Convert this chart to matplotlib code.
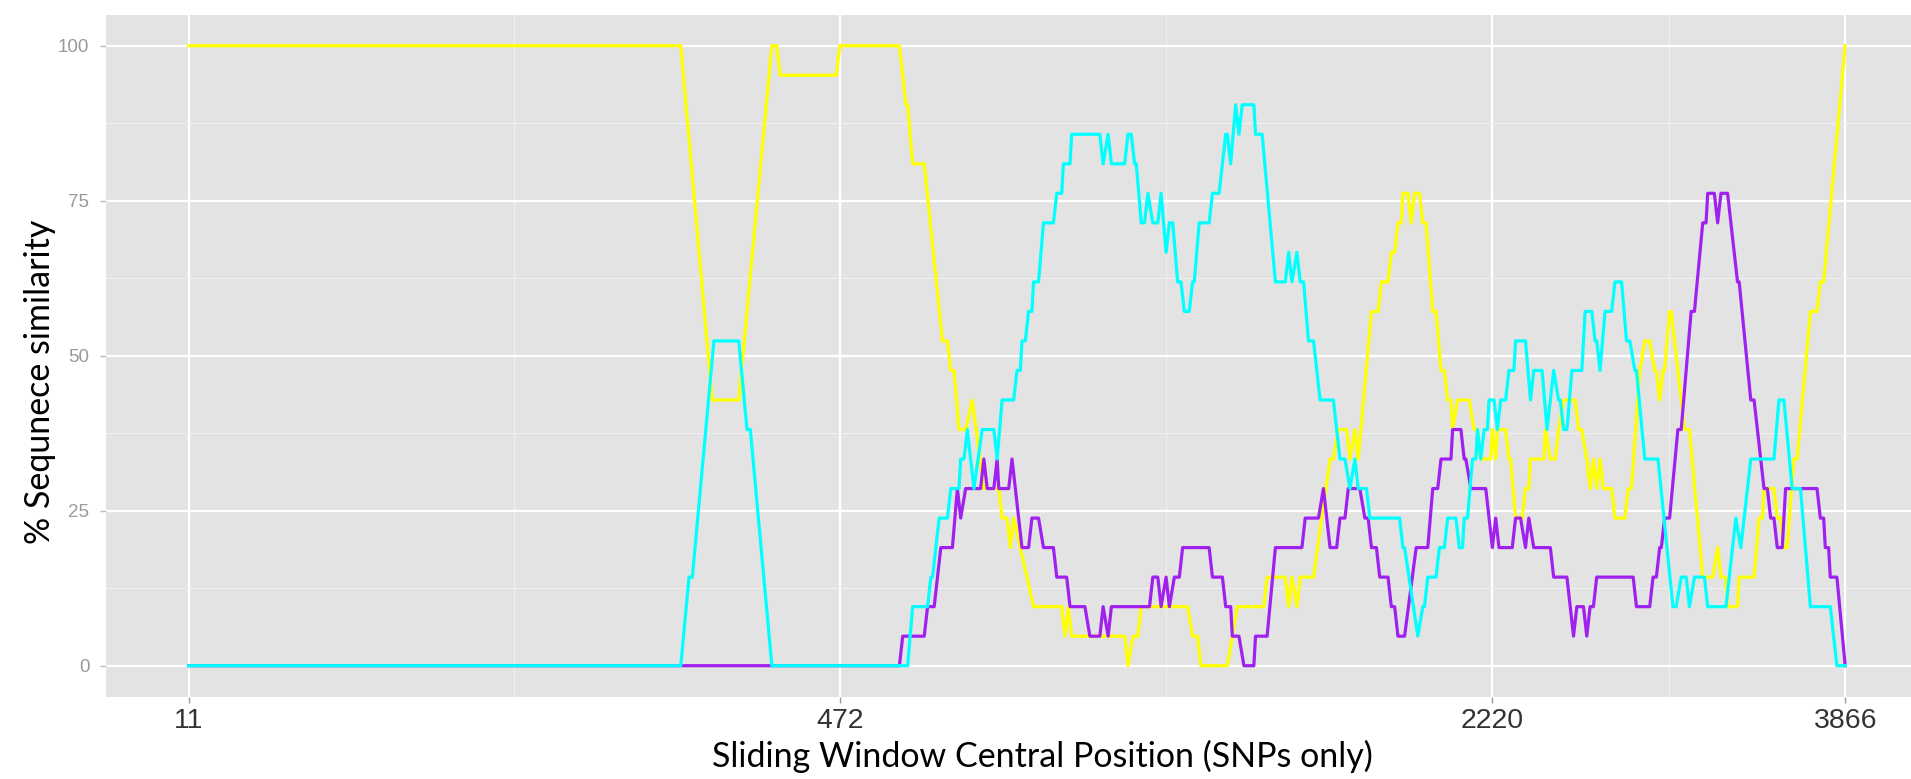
import numpy as np
import matplotlib
matplotlib.use("Agg")
import matplotlib.pyplot as plt

# window position (rank scale 0..1000) and number of matching SNPs out of 21
yellow_x = [0, 297, 316, 332, 352, 355, 357, 391, 393, 429, 433, 434, 437, 444, 455, 458, 460, 462, 465, 469,
            473, 480, 489, 491, 494, 496, 498, 510, 527, 529, 531, 533, 565, 567, 570, 573, 575, 603, 606, 609,
            611, 627, 633, 649, 651, 662, 664, 666, 669, 671, 679, 689, 691, 694, 699, 701, 704, 706, 714, 718,
            720, 724, 726, 728, 730, 732, 733, 736, 738, 740, 743, 745, 747, 751, 753, 756, 758, 760, 762, 763,
            766, 773, 776, 778, 780, 786, 787, 789, 790, 795, 797, 798, 801, 805, 807, 809, 810, 818, 819, 822,
            825, 827, 830, 837, 839, 841, 844, 846, 848, 850, 852, 854, 859, 861, 867, 869, 871, 876, 879, 882,
            885, 886, 888, 890, 891, 894, 895, 903, 906, 914, 920, 923, 925, 928, 929, 935, 936, 945, 948, 950,
            951, 957, 959, 961, 963, 965, 969, 971, 979, 983, 985, 987, 1000]
yellow_k = [21, 21, 9, 9, 21, 21, 20, 20, 21, 21, 19, 19, 17, 17, 11, 11, 10, 10, 8, 8,
            9, 6, 6, 5, 5, 4, 5, 2, 2, 1, 2, 1, 1, 0, 1, 1, 2, 2, 1, 1,
            0, 0, 2, 2, 3, 3, 2, 3, 2, 3, 3, 7, 7, 8, 8, 7, 8, 7, 12, 12,
            13, 13, 14, 14, 15, 15, 16, 16, 15, 16, 16, 15, 15, 12, 12, 10, 10, 9, 9, 8,
            9, 9, 8, 8, 7, 7, 8, 7, 8, 8, 7, 7, 5, 5, 6, 6, 7, 7, 8, 7,
            7, 8, 9, 9, 8, 8, 7, 6, 7, 6, 7, 6, 6, 5, 5, 6, 6, 10, 11, 11,
            10, 10, 9, 10, 10, 12, 12, 8, 8, 3, 3, 4, 3, 3, 2, 2, 3, 3, 5, 5,
            6, 6, 5, 5, 4, 4, 7, 7, 12, 12, 13, 13, 21]

cyan_x = [0, 297, 302, 304, 317, 332, 337, 339, 352, 434, 437, 446, 448, 449, 453, 458, 460, 465, 466, 468,
          470, 474, 479, 486, 488, 491, 498, 500, 502, 503, 505, 507, 509, 510, 513, 516, 522, 524, 527, 528,
          532, 533, 550, 552, 555, 557, 565, 567, 569, 571, 572, 575, 577, 579, 582, 585, 587, 590, 592, 594,
          597, 599, 601, 604, 606, 607, 610, 616, 618, 622, 626, 627, 629, 632, 634, 636, 643, 644, 648, 656,
          662, 664, 666, 669, 671, 673, 676, 679, 683, 691, 695, 698, 701, 704, 706, 711, 713, 731, 733, 734,
          742, 745, 746, 748, 753, 755, 758, 760, 765, 767, 769, 770, 772, 775, 777, 778, 780, 782, 784, 785,
          788, 790, 792, 795, 797, 800, 801, 807, 810, 812, 817, 820, 824, 827, 828, 830, 832, 835, 841, 843,
          847, 849, 850, 852, 855, 859, 861, 865, 868, 870, 873, 874, 879, 887, 896, 898, 901, 904, 906, 909,
          915, 917, 928, 934, 937, 943, 957, 960, 963, 968, 973, 979, 991, 995, 1000]
cyan_k = [0, 0, 3, 3, 11, 11, 8, 8, 0, 0, 2, 2, 3, 3, 5, 5, 6, 6, 7, 7,
          8, 6, 8, 8, 7, 9, 9, 10, 10, 11, 11, 12, 12, 13, 13, 15, 15, 16, 16, 17,
          17, 18, 18, 17, 18, 17, 17, 18, 18, 17, 17, 15, 15, 16, 15, 15, 16, 14, 15, 15,
          13, 13, 12, 12, 13, 13, 15, 15, 16, 16, 18, 18, 17, 19, 18, 19, 19, 18, 18, 13,
          13, 14, 13, 14, 13, 13, 11, 11, 9, 9, 7, 7, 6, 7, 6, 6, 5, 5, 4, 4,
          1, 2, 2, 3, 3, 4, 4, 5, 5, 4, 4, 5, 5, 7, 7, 8, 7, 8, 8, 9,
          9, 8, 9, 9, 10, 10, 11, 11, 9, 10, 10, 8, 10, 9, 9, 8, 8, 10, 10, 12,
          12, 11, 11, 10, 12, 12, 13, 13, 11, 11, 10, 10, 7, 7, 2, 2, 3, 3, 2, 3,
          3, 2, 2, 5, 4, 7, 7, 9, 9, 6, 6, 2, 2, 0, 0]

purple_x = [0, 429, 431, 444, 446, 450, 454, 461, 464, 466, 469, 478, 480, 482, 486, 488, 489, 495, 497, 501,
            503, 507, 509, 513, 516, 522, 524, 530, 532, 541, 544, 550, 552, 555, 557, 580, 582, 585, 587, 590,
            592, 595, 598, 600, 616, 618, 624, 626, 629, 630, 634, 637, 643, 644, 651, 656, 672, 674, 682, 685,
            689, 693, 695, 698, 700, 707, 710, 712, 714, 717, 719, 724, 726, 728, 730, 734, 741, 748, 751, 754,
            756, 762, 763, 768, 770, 771, 774, 783, 787, 789, 791, 799, 801, 804, 807, 809, 812, 822, 824, 832,
            836, 838, 842, 844, 846, 848, 850, 872, 874, 882, 884, 886, 888, 889, 891, 894, 899, 901, 907, 909,
            914, 916, 917, 921, 923, 925, 929, 935, 936, 943, 945, 951, 953, 955, 957, 959, 962, 964, 983, 985,
            987, 988, 990, 991, 995, 1000]
purple_k = [0, 0, 1, 1, 2, 2, 4, 4, 6, 5, 6, 6, 7, 6, 6, 7, 6, 6, 7, 5,
            4, 4, 5, 5, 4, 4, 3, 3, 2, 2, 1, 1, 2, 1, 2, 2, 3, 3, 2, 3,
            2, 3, 3, 4, 4, 3, 3, 2, 2, 1, 1, 0, 0, 1, 1, 4, 4, 5, 5, 6,
            4, 4, 5, 5, 6, 6, 5, 5, 4, 4, 3, 3, 2, 2, 1, 1, 4, 4, 6, 6,
            7, 7, 8, 8, 7, 7, 6, 6, 4, 5, 4, 4, 5, 5, 4, 5, 4, 4, 3, 3,
            1, 2, 2, 1, 2, 2, 3, 3, 2, 2, 3, 3, 4, 4, 5, 5, 8, 8, 12, 12,
            15, 15, 16, 16, 15, 16, 16, 13, 13, 9, 9, 6, 6, 5, 5, 4, 4, 6, 6, 5,
            5, 4, 4, 3, 3, 0]

n_snps = 21
tick_pos = [0, 393, 787, 1000]
tick_labels = ["11", "472", "2220", "3866"]

fig = plt.figure(figsize=(19.11, 7.79), dpi=100)
ax = fig.add_axes([106 / 1911, 82.3 / 779, 1822 / 1911, 682 / 779])
ax.set_facecolor("#e3e3e3")
for s in ax.spines.values():
    s.set_visible(False)

# ggplot-like grid: minor lines halfway between the major ones
minor_x = [(a + b) / 2 for a, b in zip(tick_pos[:-1], tick_pos[1:])]
ax.set_xticks(tick_pos)
ax.set_xticks(minor_x, minor=True)
ax.set_xticklabels(tick_labels)
ax.set_yticks([0, 25, 50, 75, 100])
ax.set_yticks([12.5, 37.5, 62.5, 87.5], minor=True)
ax.grid(True, which="major", color="white", lw=1.6)
ax.grid(True, which="minor", color="#f0f0f0", lw=0.8)
ax.set_axisbelow(True)

ax.tick_params(axis="x", which="major", length=4, width=1, color="#999999", pad=4,
               labelsize=20.5, labelcolor="#333333")
ax.tick_params(axis="y", which="major", length=4, width=1, color="#bbbbbb", pad=8,
               labelsize=13.5, labelcolor="#9a9a9a")
ax.tick_params(which="minor", length=0)
for lab in ax.get_xticklabels() + ax.get_yticklabels():
    lab.set_fontfamily("Liberation Sans")

ax.plot(yellow_x, np.array(yellow_k) * 100 / n_snps, color="#ffff00", lw=2.3)
ax.plot(purple_x, np.array(purple_k) * 100 / n_snps, color="#a020f0", lw=2.3)
ax.plot(cyan_x, np.array(cyan_k) * 100 / n_snps, color="#00ffff", lw=2.3)

ax.set_xlim(-50, 1050)
ax.set_ylim(-5, 105)

fig.text(1042 / 1911, 12 / 779, "Sliding Window Central Position (SNPs only)", ha="center", va="baseline",
         fontsize=24.5, family="Lato", color="black")
fig.text(40 / 1911, 397 / 779, "% Sequnece similarity", ha="center", va="center", rotation=90,
         fontsize=24.5, family="Lato", color="black")

fig.savefig("out.png", dpi=100)
